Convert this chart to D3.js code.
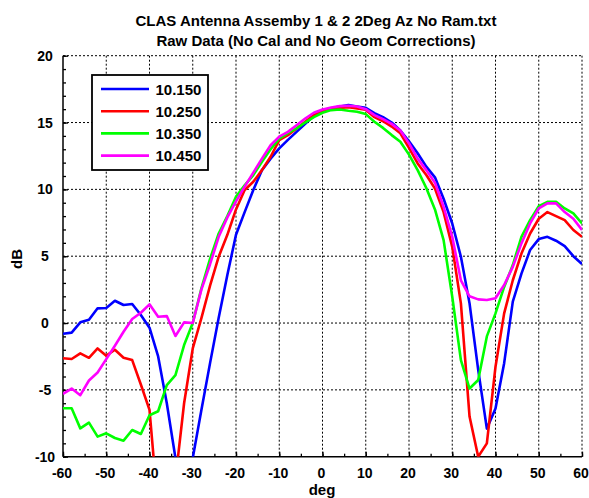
<!DOCTYPE html>
<html><head><meta charset="utf-8">
<script src="https://cdn.jsdelivr.net/npm/d3@7"></script>
<style>body{margin:0;background:#fff}svg{display:block}text{font-family:"Liberation Sans",Arial,sans-serif;font-weight:bold;fill:#000}</style>
</head><body>
<svg id="c" width="589" height="498"></svg>
<script>
const titleLines = ["CLAS Antenna Assemby 1 & 2 2Deg Az No Ram.txt", "Raw Data (No Cal and No Geom Corrections)"];
const xLabel = "deg";
const yLabel = "dB";
const xTicks = [-60,-50,-40,-30,-20,-10,0,10,20,30,40,50,60];
const yTicks = [-10,-5,0,5,10,15,20];
const angles = d3.range(-60, 61, 2);
const seriesNames = ["10.150","10.250","10.350","10.450"];
const seriesColors = ["#0000ff","#ff0000","#00ff00","#ff00ff"];
const blue = [-0.8,-0.72,0.05,0.25,1.1,1.13,1.67,1.35,1.42,0.6,-0.35,-2.5,-6.0,-10.1,-16,-10.1,-6.5,-3.0,0.4,3.6,6.6,8.3,9.95,11.44,12.3,13.07,13.7,14.3,14.9,15.5,15.9,16.06,16.2,16.3,16.2,16.1,15.7,15.4,15.0,14.4,13.6,12.7,11.7,10.9,9.3,7.45,4.96,1.47,-3.5,-7.9,-6.4,-3.0,1.6,3.7,5.46,6.28,6.45,6.16,5.76,5.0,4.41];
const red = [-2.64,-2.69,-2.27,-2.6,-1.9,-2.44,-2.0,-2.6,-2.77,-4.6,-6.5,-14,-16,-11.7,-6.0,-1.9,0.37,2.8,4.96,6.6,8.5,9.95,10.57,11.44,12.44,13.69,14.06,14.56,15.06,15.56,15.9,16.06,16.1,16.15,16.06,15.95,15.4,15.1,14.7,14.2,13.1,11.94,11.07,10.07,8.3,5.7,1.47,-7.0,-10.0,-9.0,-3.27,0.72,3.2,5.2,6.7,7.8,8.3,8.0,7.7,6.96,6.45];
const green = [-6.38,-6.38,-7.88,-7.45,-8.5,-8.25,-8.6,-8.8,-8.0,-8.3,-6.9,-6.6,-4.64,-3.9,-1.65,0.0,2.6,4.8,6.7,8.0,9.45,10.3,11.07,12.07,13.0,13.8,14.2,14.56,15.0,15.4,15.73,15.93,15.98,15.88,15.81,15.63,15.06,14.6,14.06,13.56,12.6,11.44,10.1,8.5,6.2,1.97,-2.77,-4.9,-4.26,-1.0,0.72,2.7,4.34,6.45,7.7,8.75,9.07,9.07,8.57,8.2,7.45];
const magenta = [-5.3,-4.9,-5.4,-4.3,-3.7,-2.7,-1.7,-0.65,0.3,0.77,1.4,0.47,0.52,-0.97,0.05,0.0,2.5,4.4,6.45,7.9,9.1,10.2,11.25,12.3,13.3,13.94,14.3,14.8,15.3,15.73,15.98,16.13,16.23,16.25,16.2,16.0,15.55,15.25,14.9,14.4,13.44,12.3,11.44,10.5,8.7,6.45,3.2,2.0,1.77,1.72,1.85,2.84,4.2,5.96,7.45,8.57,8.95,8.95,8.3,7.8,6.96];
const seriesValues = [blue, red, green, magenta];

const svg = d3.select("#c");
const L = 63, R = 582, T = 55.7, B = 456.7;
const x = d3.scaleLinear().domain([-60,60]).range([L,R]);
const y = d3.scaleLinear().domain([-10,20]).range([B,T]);

// title
svg.selectAll("text.title").data(titleLines).join("text").attr("class","title")
  .attr("x", 316).attr("y", (d,i)=> 26 + i*20).attr("text-anchor","middle")
  .style("font-size","15px").text(d=>d);

// grid
const g = svg.append("g");
g.selectAll("line.gx").data(xTicks.filter(v=>v>-60)).join("line")
  .attr("x1",d=>x(d)).attr("x2",d=>x(d)).attr("y1",T).attr("y2",B)
  .attr("stroke","#000").attr("stroke-width",1).attr("stroke-dasharray","2,2");
g.selectAll("line.gy").data(yTicks.filter(v=>v>-10)).join("line")
  .attr("y1",d=>y(d)).attr("y2",d=>y(d)).attr("x1",L).attr("x2",R)
  .attr("stroke","#000").attr("stroke-width",1).attr("stroke-dasharray","2,2");

// axes (ticks inward)
const xAxisMinor = d3.axisTop(x).tickValues(d3.range(-60,61,5)).tickSize(3).tickFormat("");
const xAxisMajor = d3.axisTop(x).tickValues(xTicks).tickSize(5).tickFormat("");
const yAxisMinor = d3.axisRight(y).tickValues(d3.range(-10,21,1)).tickSize(3).tickFormat("");
const yAxisMajor = d3.axisRight(y).tickValues(yTicks).tickSize(5).tickFormat("");
[xAxisMinor, xAxisMajor].forEach(a=>{
  const ga = svg.append("g").attr("transform",`translate(0,${B})`).call(a);
  ga.select(".domain").remove();
  ga.selectAll("line").attr("stroke","#000").attr("stroke-width",1.3);
});
[yAxisMinor, yAxisMajor].forEach(a=>{
  const ga = svg.append("g").attr("transform",`translate(${L},0)`).call(a);
  ga.select(".domain").remove();
  ga.selectAll("line").attr("stroke","#000").attr("stroke-width",1.3);
});
svg.append("line").attr("x1",L).attr("x2",R).attr("y1",B).attr("y2",B).attr("stroke","#000").attr("stroke-width",1.5);
svg.append("line").attr("x1",L).attr("x2",L).attr("y1",T).attr("y2",B).attr("stroke","#000").attr("stroke-width",1.5);

// tick labels
svg.selectAll("text.xt").data(xTicks).join("text").attr("class","xt")
  .attr("x",d=>x(d)-1).attr("y",B+21).attr("text-anchor","middle").style("font-size","14px").text(d=>d);
svg.selectAll("text.yt").data(yTicks).join("text").attr("class","yt")
  .attr("x",45).attr("y",d=>y(d)+5).attr("text-anchor","middle").style("font-size","14px").text(d=>d);

// axis labels
svg.append("text").attr("x",322).attr("y",495).attr("text-anchor","middle").style("font-size","15px").text(xLabel);
svg.append("text").attr("transform","translate(22,259) rotate(-90)").attr("text-anchor","middle").style("font-size","15px").text(yLabel);

// clip
svg.append("clipPath").attr("id","clip").append("rect").attr("x",L).attr("y",T).attr("width",R-L).attr("height",B-T);
const line = d3.line().x(d=>x(d[0])).y(d=>y(d[1]));
const pg = svg.append("g").attr("clip-path","url(#clip)");
seriesValues.forEach((vals,i)=>{
  pg.append("path").datum(angles.map((a,j)=>[a,vals[j]]))
    .attr("d",line).attr("fill","none").attr("stroke",seriesColors[i])
    .attr("stroke-width",2.6).attr("stroke-linejoin","round");
});

// legend
const lg = svg.append("g");
lg.append("rect").attr("x",92).attr("y",75).attr("width",116).attr("height",95)
  .attr("fill","#fff").attr("stroke","#000").attr("stroke-width",1.8);
seriesNames.forEach((n,i)=>{
  const yy = 89 + i*22.2;
  lg.append("line").attr("x1",101).attr("x2",149).attr("y1",yy).attr("y2",yy)
    .attr("stroke",seriesColors[i]).attr("stroke-width",2.6);
  lg.append("text").attr("x",155.5).attr("y",yy+5.5).style("font-size","15px").text(n);
});
</script>
</body></html>
